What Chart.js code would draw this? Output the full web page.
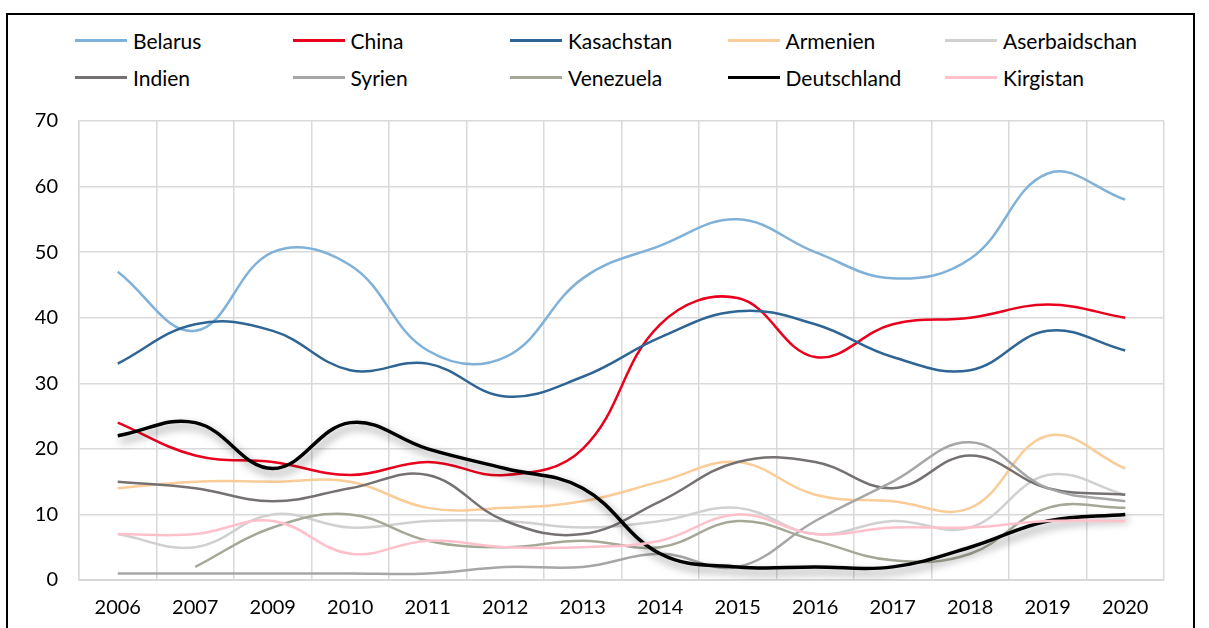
<!DOCTYPE html>
<html>
<head>
<meta charset="utf-8">
<script src="https://cdn.jsdelivr.net/npm/chart.js@4"></script>
<style>
    html, body { margin: 0; padding: 0; background: #fff; overflow: hidden; }
    body { width: 1209px; height: 628px; position: relative; font-family: Lato, sans-serif; }
    #frame {
        position: absolute; left: 6px; top: 13px; width: 1189px; height: 640px;
        border: 2px solid #000; box-sizing: border-box;
    }
    #legend { position: absolute; left: 75px; top: 27px; width: 1100px; }
    .item { position: absolute; height: 26px; display: flex; align-items: center; font-size: 21px; color: #000; white-space: nowrap; }
    .item .swatch { width: 52px; height: 0; margin-right: 6px; }
    #wrap { position: absolute; left: 0; top: 0; width: 1209px; height: 628px; }
</style>
</head>
<body>
<div id="frame"></div>
<div id="legend"></div>
<div id="wrap"><canvas id="lineChart"></canvas></div>
<script>
// ============================================
// Data
// ============================================

const years = ['2006', '2007', '2009', '2010', '2011', '2012', '2013', '2014', '2015', '2016', '2017', '2018', '2019', '2020'];

const belarus       = [47, 38, 50, 48, 35, 34, 46, 51, 55, 50, 46, 49, 62, 58];
const china         = [24, 19, 18, 16, 18, 16, 20, 39, 43, 34, 39, 40, 42, 40];
const kasachstan    = [33, 39, 38, 32, 33, 28, 31, 37, 41, 39, 34, 32, 38, 35];
const armenien      = [14, 15, 15, 15, 11, 11, 12, 15, 18, 13, 12, 11, 22, 17];
const aserbaidschan = [7, 5, 10, 8, 9, 9, 8, 9, 11, 7, 9, 8, 16, 13];
const indien        = [15, 14, 12, 14, 16, 9, 7, 12, 18, 18, 14, 19, 14, 13];
const syrien        = [1, 1, 1, 1, 1, 2, 2, 4, 2, 9, 15, 21, 14, 12];
const venezuela     = [null, 2, 8, 10, 6, 5, 6, 5, 9, 6, 3, 4, 11, 11];
const deutschland   = [22, 24, 17, 24, 20, 17, 14, 4, 2, 2, 2, 5, 9, 10];
const kirgistan     = [7, 7, 9, 4, 6, 5, 5, 6, 10, 7, 8, 8, 9, 9];

const yTicks = [0, 10, 20, 30, 40, 50, 60, 70];

// ============================================
// Chart
// ============================================

function series(label, data, color, width) {
    return {
        label: label,
        data: data,
        borderColor: color,
        backgroundColor: color,
        borderWidth: width || 2.5,
        pointRadius: 0,
        pointHoverRadius: 0,
        tension: 0.4,
        fill: false
    };
}

const datasets = [
    series('Belarus', belarus, '#7fb1d9'),
    series('China', china, '#e8001c'),
    series('Kasachstan', kasachstan, '#2e6594'),
    series('Armenien', armenien, '#f9cc98'),
    series('Aserbaidschan', aserbaidschan, '#d0d0d0'),
    series('Indien', indien, '#767171'),
    series('Syrien', syrien, '#a6a6a6'),
    series('Venezuela', venezuela, '#a3a897'),
    series('Deutschland', deutschland, '#000000', 3.5),
    series('Kirgistan', kirgistan, '#ffc0cb')
];
// later series on top, like the spreadsheet
datasets.forEach((d, i) => { d.order = datasets.length - i; });
datasets[8].shadow = true;

// soft drop shadow under the black line
const shadowPlugin = {
    id: 'lineShadow',
    beforeDatasetDraw(chart, args) {
        if (!chart.data.datasets[args.index].shadow) return;
        const ctx = chart.ctx;
        ctx.save();
        ctx.shadowColor = 'rgba(0, 0, 0, 0.45)';
        ctx.shadowBlur = 8;
        ctx.shadowOffsetX = 3;
        ctx.shadowOffsetY = 5;
    },
    afterDatasetDraw(chart, args) {
        if (!chart.data.datasets[args.index].shadow) return;
        chart.ctx.restore();
    }
};

const gridColor = '#d9d9d9';

const options = {
    responsive: true,
    maintainAspectRatio: false,
    animation: false,
    layout: { padding: { top: 121, right: 45, left: 0, bottom: 0 } },
    plugins: {
        legend: { display: false },
        tooltip: { enabled: false }
    },
    scales: {
        x: {
            offset: true,
            grid: { offset: true, color: gridColor, lineWidth: 1.5, drawTicks: false },
            border: { color: gridColor, width: 2 },
            ticks: { color: '#000', padding: 16, font: { family: 'Lato', size: 20 } },
            afterFit: function(scale) { scale.height = 48; }
        },
        y: {
            min: 0,
            max: 70,
            afterBuildTicks: function(scale) { scale.ticks = yTicks.map(v => ({ value: v })); },
            grid: { color: gridColor, lineWidth: 1.5, drawTicks: false },
            border: { color: gridColor, width: 1.5 },
            ticks: { color: '#000', padding: 21, font: { family: 'Lato', size: 20 } },
            afterFit: function(scale) { scale.width = 79; }
        }
    }
};

const chart = new Chart(document.getElementById('lineChart').getContext('2d'), {
    type: 'line',
    data: { labels: years, datasets: datasets },
    options: options,
    plugins: [shadowPlugin]
});

// legend laid out in five fixed columns
const legendEl = document.getElementById('legend');
chart.data.datasets.forEach((d, i) => {
    const item = document.createElement('div');
    item.className = 'item';
    item.style.left = (i % 5) * 217.5 + 'px';
    item.style.top = Math.floor(i / 5) * 37 + 'px';
    const sw = document.createElement('span');
    sw.className = 'swatch';
    sw.style.borderTop = (d.borderWidth >= 3 ? 3.5 : 3) + 'px solid ' + d.borderColor;
    item.appendChild(sw);
    item.appendChild(document.createTextNode(d.label));
    legendEl.appendChild(item);
});
</script>
</body>
</html>
